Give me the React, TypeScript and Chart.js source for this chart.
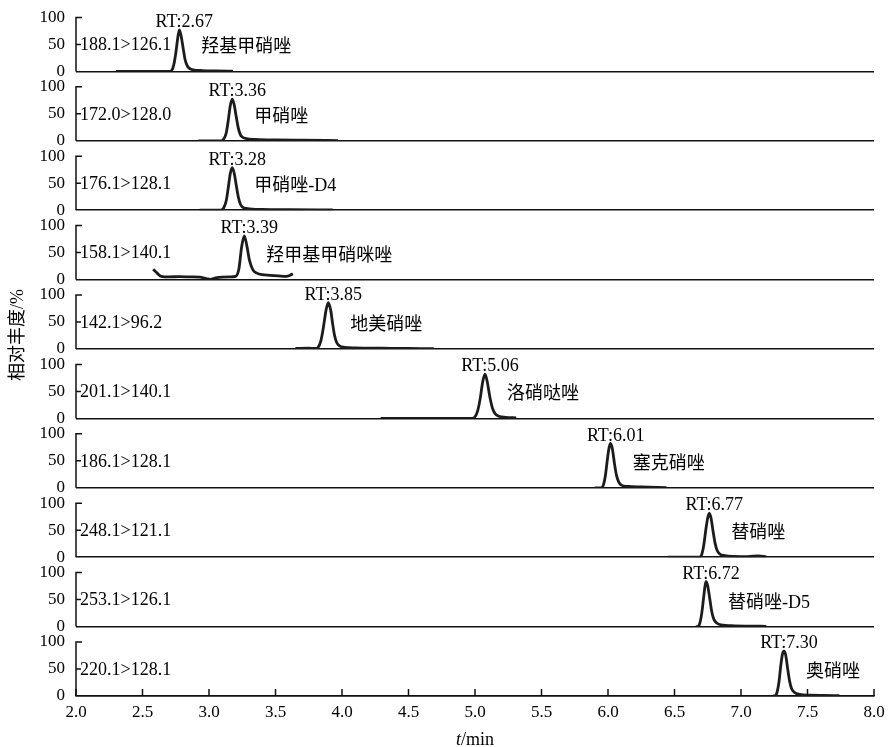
import React, { useEffect, useRef } from "react";
import { Chart, registerables } from "chart.js";

Chart.register(...registerables);

// ---------- data ----------
const TRANSITIONS = [
  "188.1>126.1", "172.0>128.0", "176.1>128.1", "158.1>140.1", "142.1>96.2",
  "201.1>140.1", "186.1>128.1", "248.1>121.1", "253.1>126.1", "220.1>128.1",
];
const RT_LABELS = [
  "RT:2.67", "RT:3.36", "RT:3.28", "RT:3.39", "RT:3.85",
  "RT:5.06", "RT:6.01", "RT:6.77", "RT:6.72", "RT:7.30",
];
const NAMES = [
  "羟基甲硝唑", "甲硝唑", "甲硝唑-D4", "羟甲基甲硝咪唑", "地美硝唑",
  "洛硝哒唑", "塞克硝唑", "替硝唑", "替硝唑-D5", "奥硝唑",
];
const X_TICKS = [2.0, 2.5, 3.0, 3.5, 4.0, 4.5, 5.0, 5.5, 6.0, 6.5, 7.0, 7.5, 8.0];
const Y_TICKS = [0, 50, 100];

const T1 = [2.30, 2.70, 2.72, 2.735, 2.75, 2.765, 2.777, 2.79, 2.805, 2.82, 2.835, 2.85, 2.88, 2.95, 3.05, 3.18];
const A1 = [0, 0, 2, 12, 33, 62, 77, 66, 44, 22, 11, 6, 3, 1.5, 1, 0.5];

const T2 = [2.92, 3.09, 3.11, 3.13, 3.145, 3.16, 3.175, 3.19, 3.205, 3.22, 3.235, 3.25, 3.28, 3.35, 3.5, 3.7, 3.97];
const A2 = [0, 0, 3, 15, 38, 65, 77, 66, 44, 24, 12, 7, 4, 2.5, 1.5, 1, 0.5];

const T3 = [2.93, 3.09, 3.11, 3.13, 3.145, 3.16, 3.175, 3.19, 3.205, 3.22, 3.235, 3.25, 3.29, 3.4, 3.6, 3.93];
const A3 = [0, 0, 4, 18, 42, 68, 79, 68, 46, 25, 12, 6, 3, 1.5, 1, 0.5];

const T4 = [2.58, 2.61, 2.64, 2.70, 2.78, 2.86, 2.93, 2.98, 3.01, 3.05, 3.10, 3.16, 3.20, 3.225, 3.245, 3.265, 3.285, 3.305, 3.33, 3.36, 3.40, 3.46, 3.52, 3.58, 3.61, 3.63];
const A4 = [19, 12, 6, 5, 5.5, 5, 4.5, 2, 0.5, 3, 4.5, 5, 6, 20, 60, 81, 62, 35, 18, 12, 9, 8, 7, 6, 8, 11];

const T5 = [3.65, 3.75, 3.80, 3.82, 3.84, 3.86, 3.88, 3.897, 3.915, 3.93, 3.945, 3.96, 3.98, 4.02, 4.1, 4.3, 4.5, 4.69];
const A5 = [1, 1.5, 1, 3, 14, 40, 72, 86, 72, 46, 24, 12, 6, 3, 2, 1.5, 1, 0.5];

const T6 = [4.29, 4.98, 5.00, 5.02, 5.04, 5.058, 5.075, 5.092, 5.11, 5.13, 5.15, 5.18, 5.23, 5.31];
const A6 = [0, 0, 3, 14, 38, 68, 82, 68, 42, 20, 9, 4, 2, 1];

const T7 = [5.90, 5.95, 5.965, 5.98, 5.995, 6.008, 6.02, 6.033, 6.048, 6.063, 6.08, 6.10, 6.15, 6.25, 6.44];
const A7 = [0, 0, 5, 22, 52, 74, 82, 72, 46, 24, 11, 5, 2.5, 1.5, 0.5];

const T8 = [6.45, 6.69, 6.705, 6.72, 6.735, 6.75, 6.762, 6.775, 6.79, 6.805, 6.82, 6.84, 6.88, 6.95, 7.05, 7.13, 7.19];
const A8 = [0, 0, 5, 22, 50, 73, 81, 72, 48, 26, 13, 6, 3, 1.5, 1, 2.5, 0.5];

const T9 = [6.66, 6.675, 6.69, 6.705, 6.72, 6.73, 6.737, 6.75, 6.765, 6.78, 6.795, 6.815, 6.85, 6.95, 7.05, 7.19];
const A9 = [0, 0, 6, 25, 56, 76, 83, 75, 52, 28, 14, 7, 3, 1.5, 1, 0.5];

const T10 = [7.24, 7.255, 7.27, 7.285, 7.30, 7.312, 7.323, 7.336, 7.35, 7.365, 7.38, 7.40, 7.44, 7.52, 7.62, 7.74];
const A10 = [0, 0, 6, 25, 58, 78, 83, 76, 52, 28, 14, 7, 3, 1.5, 1, 0.5];

const TIMES = [T1, T2, T3, T4, T5, T6, T7, T8, T9, T10];
const ABUND = [A1, A2, A3, A4, A5, A6, A7, A8, A9, A10];

// ---------- style ----------
const SERIF = "'Liberation Serif', 'Noto Sans CJK SC', serif";
const INK = "#111";
const Y_MAX = 128.5;

function apexIndex(a: number[]) {
  let k = 0;
  for (let i = 1; i < a.length; i++) if (a[i] > a[k]) k = i;
  return k;
}

const annotPlugin = {
  id: "annot",
  afterDraw(chart: any) {
    const ctx = chart.ctx as CanvasRenderingContext2D;
    const xs = chart.scales.x;
    const area = chart.chartArea;
    ctx.save();
    ctx.strokeStyle = INK;
    ctx.fillStyle = "#000";
    ctx.lineWidth = 1.5;
    for (let i = 0; i < TIMES.length; i++) {
      const ys = chart.scales["y" + i];
      const left = area.left;
      const y0 = ys.getPixelForValue(0);
      const y50 = ys.getPixelForValue(50);
      const y100 = ys.getPixelForValue(100);
      ctx.beginPath();
      ctx.moveTo(left, y0);
      ctx.lineTo(left, y100);
      ctx.lineTo(left + 6, y100);
      ctx.moveTo(left, y50);
      ctx.lineTo(left + 5, y50);
      ctx.stroke();

      ctx.font = `18px ${SERIF}`;
      ctx.textAlign = "left";
      ctx.textBaseline = "middle";
      ctx.fillText(TRANSITIONS[i], left + 4, ys.getPixelForValue(48));

      const k = apexIndex(ABUND[i]);
      const px = xs.getPixelForValue(TIMES[i][k]);
      const py = ys.getPixelForValue(ABUND[i][k]);
      ctx.textAlign = "center";
      ctx.textBaseline = "alphabetic";
      ctx.fillText(RT_LABELS[i], px + 5, py - 3);

      ctx.textAlign = "left";
      ctx.textBaseline = "middle";
      ctx.fillText(NAMES[i], px + 22, ys.getPixelForValue(44));
    }
    // inward x ticks
    ctx.beginPath();
    for (const v of X_TICKS) {
      const x = xs.getPixelForValue(v);
      ctx.moveTo(x, area.bottom);
      ctx.lineTo(x, area.bottom - 7);
    }
    ctx.stroke();

    // x title
    ctx.font = `italic 18px ${SERIF}`;
    const tW = ctx.measureText("t").width;
    ctx.font = `18px ${SERIF}`;
    const rW = ctx.measureText("/min").width;
    const cx = (area.left + area.right) / 2;
    const sx = cx - (tW + rW) / 2;
    ctx.textAlign = "left";
    ctx.textBaseline = "alphabetic";
    ctx.font = `italic 18px ${SERIF}`;
    ctx.fillText("t", sx, 745);
    ctx.font = `18px ${SERIF}`;
    ctx.fillText("/min", sx + tW, 745);

    // y title
    ctx.save();
    ctx.translate(18, 335);
    ctx.rotate(-Math.PI / 2);
    ctx.textAlign = "center";
    ctx.textBaseline = "middle";
    ctx.font = `18px ${SERIF}`;
    ctx.fillText("相对丰度/%", 0, 0);
    ctx.restore();

    ctx.restore();
  },
};

export default function App() {
  const ref = useRef<HTMLCanvasElement | null>(null);

  useEffect(() => {
    if (!ref.current) return;
    const scales: any = {
      x: {
        type: "linear",
        position: "bottom",
        min: 2,
        max: 8,
        afterBuildTicks: (s: any) => {
          s.ticks = X_TICKS.map((v) => ({ value: v }));
        },
        afterFit: (s: any) => {
          s.height = 51;
          s.paddingLeft = 0;
          s.paddingRight = 0;
          s.paddingTop = 0;
          s.paddingBottom = 0;
        },
        ticks: {
          callback: (v: any) => Number(v).toFixed(1),
          padding: 6,
          maxRotation: 0,
          autoSkip: false,
          color: "#000",
          font: { family: SERIF, size: 17 },
        },
        grid: { display: false, drawTicks: false },
        border: { display: true, color: INK, width: 1.5 },
      },
    };
    // stacked left axes are laid out top-first in reverse definition order,
    // so define them from the bottom panel upward
    for (let i = TIMES.length - 1; i >= 0; i--) {
      scales["y" + i] = {
        type: "linear",
        position: "left",
        stack: "panels",
        stackWeight: 1,
        min: 0,
        max: Y_MAX,
        afterBuildTicks: (s: any) => {
          s.ticks = Y_TICKS.map((v) => ({ value: v }));
        },
        afterFit: (s: any) => {
          s.width = 76;
          s.paddingTop = 0;
          s.paddingBottom = 0;
          s.paddingLeft = 0;
          s.paddingRight = 0;
        },
        ticks: {
          padding: 11,
          autoSkip: false,
          color: "#000",
          font: { family: SERIF, size: 17 },
        },
        grid: {
          drawTicks: false,
          lineWidth: 1.5,
          color: (c: any) => (c.tick && c.tick.value === 0 ? INK : "rgba(0,0,0,0)"),
        },
        border: { display: false },
      };
    }

    const datasets = TIMES.map((t, i) => ({
      label: NAMES[i],
      data: t.map((x, j) => ({ x, y: ABUND[i][j] })),
      yAxisID: "y" + i,
      xAxisID: "x",
      borderColor: "#1c1c1c",
      borderWidth: 2.8,
      pointRadius: 0,
      fill: false,
      cubicInterpolationMode: "monotone" as const,
    }));

    const chart = new Chart(ref.current, {
      type: "line",
      data: { datasets },
      options: {
        animation: false,
        responsive: false,
        devicePixelRatio: 1,
        layout: { padding: { top: 2, right: 14, bottom: 0, left: 0 } },
        plugins: { legend: { display: false }, tooltip: { enabled: false } },
        scales,
      },
      plugins: [annotPlugin],
    });
    return () => chart.destroy();
  }, []);

  return (
    <div style={{ position: "absolute", left: 0, top: 0, width: 888, height: 747, background: "#fff" }}>
      <canvas ref={ref} width={888} height={747} style={{ display: "block" }} />
    </div>
  );
}
